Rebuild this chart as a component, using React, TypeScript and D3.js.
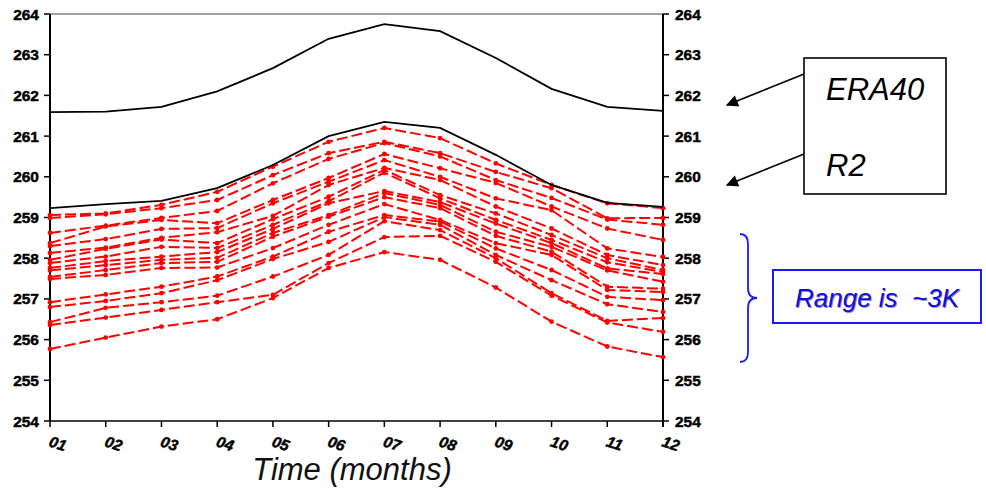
import React from 'react';
import * as d3 from 'd3';

// months on the x axis
const months = ['01', '02', '03', '04', '05', '06', '07', '08', '09', '10', '11', '12'];
const yTicks = [254, 255, 256, 257, 258, 259, 260, 261, 262, 263, 264];

// the two reanalyses (black)
const era40 = [261.59, 261.6, 261.72, 262.1, 262.67, 263.39, 263.75, 263.58, 262.92, 262.16, 261.72, 261.62];
const r2 = [259.23, 259.33, 259.41, 259.72, 260.29, 261.0, 261.35, 261.2, 260.54, 259.8, 259.36, 259.26];

// ensemble members (red), one array per month, members in the same order
const m01 = [259.06, 258.99, 258.62, 258.37, 258.3, 258.13, 257.96, 257.88, 257.76, 257.7, 257.54, 257.49, 256.92, 256.8, 256.43, 256.36, 255.77];
const m02 = [259.1, 259.08, 258.8, 258.78, 258.47, 258.26, 258.23, 258.04, 257.93, 257.83, 257.71, 257.59, 257.11, 256.95, 256.78, 256.54, 256.05];
const m03 = [259.31, 259.23, 258.99, 258.94, 258.72, 258.5, 258.46, 258.28, 258.04, 257.96, 257.88, 257.76, 257.3, 257.14, 256.92, 256.73, 256.32];
const m04 = [259.63, 259.43, 259.16, 258.86, 258.74, 258.64, 258.37, 258.25, 258.15, 258.01, 257.91, 257.77, 257.55, 257.46, 257.08, 256.92, 256.5];
const m05 = [260.25, 260.04, 259.84, 259.43, 259.35, 259.04, 258.96, 258.82, 258.72, 258.62, 258.53, 258.25, 258.04, 257.98, 257.55, 257.1, 257.02];
const m06 = [260.86, 260.58, 260.44, 259.97, 259.88, 259.8, 259.51, 259.4, 259.35, 259.06, 259.02, 258.82, 258.65, 258.4, 258.08, 257.88, 257.76];
const m07 = [261.2, 260.86, 260.83, 260.56, 260.41, 260.22, 260.17, 260.1, 259.65, 259.6, 259.5, 259.33, 259.06, 259.01, 258.91, 258.52, 258.15];
const m08 = [260.95, 260.58, 260.5, 260.21, 260.0, 259.92, 259.55, 259.47, 259.38, 259.31, 259.23, 258.94, 258.9, 258.82, 258.69, 258.55, 257.96];
const m09 = [260.33, 260.12, 259.92, 259.85, 259.47, 259.27, 259.1, 258.94, 258.85, 258.65, 258.55, 258.37, 258.24, 258.08, 258.0, 257.91, 257.28];
const m10 = [259.8, 259.72, 259.48, 259.27, 259.18, 258.73, 258.57, 258.45, 258.37, 258.28, 258.16, 258.08, 257.71, 257.46, 257.14, 257.08, 256.44];
const m11 = [259.35, 258.98, 258.95, 258.73, 258.24, 258.08, 258.0, 257.9, 257.75, 257.7, 257.3, 257.22, 257.05, 256.87, 256.46, 256.42, 255.83];
const m12 = [259.23, 258.99, 258.82, 258.45, 258.03, 257.83, 257.71, 257.66, 257.61, 257.42, 257.25, 257.17, 256.97, 256.68, 256.53, 256.19, 255.57];

const W = 986;
const H = 493;
const tickFont = '"Liberation Sans", Arial, sans-serif';

const App = () => {
    const x = d3.scalePoint<string>().domain(months).range([50, 663]);
    const y = d3.scaleLinear().domain([254, 264]).range([421, 14]);

    const members = d3.transpose<number>([m01, m02, m03, m04, m05, m06, m07, m08, m09, m10, m11, m12]);

    const line = d3.line<number>()
        .x((d, i) => x(months[i]) as number)
        .y((d) => y(d));

    const tickText = {
        fontFamily: tickFont, fontWeight: 'bold' as const, fontSize: 15.5, fill: '#000',
        stroke: '#000', strokeWidth: 0.45,
    };

    return (
        <svg width={W} height={H} style={{ position: 'absolute', left: 0, top: 0, background: '#fff' }}>
            <defs>
                <marker id="arrowHead" viewBox="0 0 10 10" refX="9" refY="5" markerWidth="17" markerHeight="12"
                    markerUnits="userSpaceOnUse" orient="auto">
                    <path d="M0,0 L10,5 L0,10 z" fill="#000" />
                </marker>
                <filter id="soft" x="-10%" y="-30%" width="120%" height="160%">
                    <feGaussianBlur stdDeviation="0.6" />
                </filter>
            </defs>

            {/* frame */}
            <line x1={50} x2={663} y1={14} y2={14} stroke="#444" strokeWidth={1.2} />
            <line x1={50} x2={663} y1={421} y2={421} stroke="#000" strokeWidth={1.5} />
            <line x1={50} x2={50} y1={14} y2={421} stroke="#000" strokeWidth={2} />
            <line x1={663} x2={663} y1={14} y2={427} stroke="#000" strokeWidth={2} />

            {/* y ticks, both sides */}
            {yTicks.map((t) => (
                <g key={t}>
                    <line x1={44} x2={50} y1={y(t)} y2={y(t)} stroke="#000" strokeWidth={1.5} />
                    <line x1={663} x2={669} y1={y(t)} y2={y(t)} stroke="#000" strokeWidth={1.5} />
                    <text x={39} y={y(t)} dy="0.36em" textAnchor="end" {...tickText}>{t}</text>
                    <text x={675} y={y(t)} dy="0.36em" textAnchor="start" {...tickText}>{t}</text>
                </g>
            ))}

            {/* x ticks */}
            {months.map((m) => {
                const xm = x(m) as number;
                return (
                    <g key={m}>
                        <line x1={xm} x2={xm} y1={421} y2={427} stroke="#000" strokeWidth={1.5} />
                        <text transform={`translate(${xm - 2},${446}) rotate(18)`} fontStyle="italic" {...tickText}>{m}</text>
                    </g>
                );
            })}

            <text x={352} y={480} textAnchor="middle" fontFamily={tickFont} fontStyle="italic"
                fontSize={31} fill="#111">Time (months)</text>

            {/* ensemble members */}
            {members.map((vals, k) => (
                <g key={k}>
                    <path d={line(vals) || ''} fill="none" stroke="#ff0000" strokeWidth={2}
                        strokeDasharray="11,4" />
                    {vals.map((v, i) => (
                        <circle key={i} cx={x(months[i]) as number} cy={y(v)} r={2.4} fill="#ff0000" />
                    ))}
                </g>
            ))}

            {/* reanalyses */}
            <path d={line(era40) || ''} fill="none" stroke="#000" strokeWidth={1.8} />
            <path d={line(r2) || ''} fill="none" stroke="#000" strokeWidth={1.8} />

            {/* legend box with arrows */}
            <rect x={804} y={58} width={142} height={136} fill="#fff" stroke="#000" strokeWidth={1.6} />
            <line x1={804} y1={74} x2={727} y2={105} stroke="#000" strokeWidth={1.6} markerEnd="url(#arrowHead)" />
            <line x1={804} y1={154} x2={727} y2={185} stroke="#000" strokeWidth={1.6} markerEnd="url(#arrowHead)" />
            <text x={826} y={100} fontFamily={tickFont} fontStyle="italic" fontSize={31} fill="#000">ERA40</text>
            <text x={826} y={176} fontFamily={tickFont} fontStyle="italic" fontSize={31} fill="#000">R2</text>

            {/* range brace and note */}
            <path d="M740,234 Q748,234 748,244 L748,288 Q748,298 757,298 Q748,298 748,308 L748,352 Q748,362 740,362"
                fill="none" stroke="#1a1aff" strokeWidth={1.8} />
            <rect x={773} y={270} width={208} height={53} fill="#fff" stroke="#1a1aff" strokeWidth={2} />
            <text x={877} y={307} textAnchor="middle" fontFamily={tickFont} fontStyle="italic" fontSize={26}
                fill="#8a8ad8" filter="url(#soft)" style={{ whiteSpace: 'pre' }} dx={1} dy={1}>Range is  ~3K</text>
            <text x={877} y={307} textAnchor="middle" fontFamily={tickFont} fontStyle="italic" fontSize={26}
                fill="#1010d8" style={{ whiteSpace: 'pre' }}>Range is  ~3K</text>
        </svg>
    );
};

export default App;
